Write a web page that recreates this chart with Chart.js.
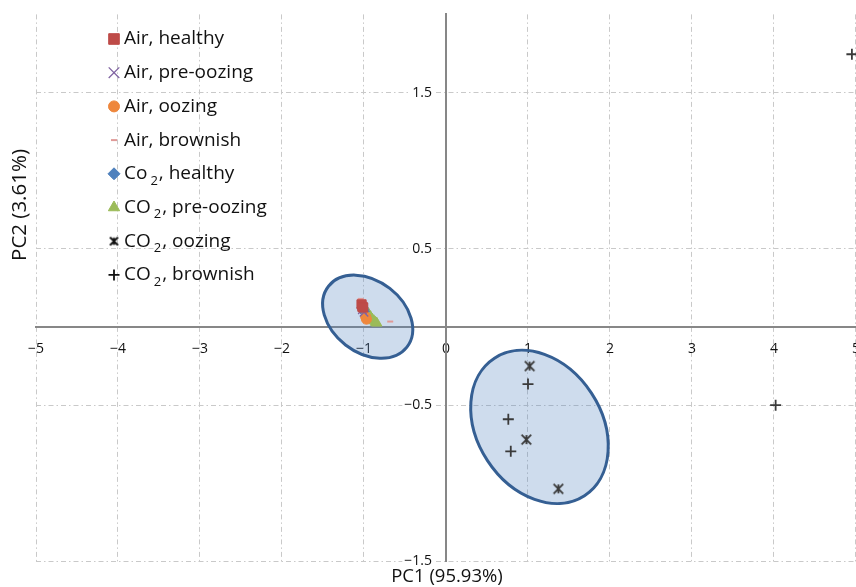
<!DOCTYPE html>
<html>
<head>
<meta charset="utf-8">
<script src="https://cdn.jsdelivr.net/npm/chart.js@4/dist/chart.umd.min.js"></script>
<style>
  html, body { margin: 0; padding: 0; background: #fff; overflow: hidden; }
  /* canvas a bit larger than the window: Chart.js reserves room for edge tick labels,
     the reference plot runs right up to the right border */
  #wrap { position: absolute; left: 0; top: -8px; width: 874px; height: 595px; }
</style>
</head>
<body>
<div id="wrap"><canvas id="pca"></canvas></div>
<script>
/* ===============================
   DATA (PC1, PC2 scores)
=============================== */
const seriesLabels = [
  'Air, healthy', 'Air, pre-oozing', 'Air, oozing', 'Air, brownish',
  'Co₂, healthy', 'CO₂, pre-oozing', 'CO₂, oozing', 'CO₂, brownish'
];

const airHealthy   = [[-1.03, 0.145], [-1.02, 0.13], [-1.01, 0.125]];
const airPreOozing = [[-1.02, 0.11], [-1.0, 0.095]];
const airOozing    = [[-0.98, 0.065], [-0.97, 0.05]];
const airBrownish  = [[-1.04, 0.18], [-0.68, 0.035]];
const co2Healthy   = [[-1.02, 0.125], [-1.01, 0.11], [-1.0, 0.1]];
const co2PreOozing = [[-0.99, 0.115], [-0.96, 0.095], [-0.94, 0.08], [-0.92, 0.065],
                      [-0.90, 0.05], [-0.88, 0.04], [-0.86, 0.03], [-0.845, 0.025]];
const co2Oozing    = [[1.02, -0.25], [0.98, -0.72], [1.37, -1.035]];
const co2Brownish  = [[1.0, -0.365], [0.76, -0.59], [0.79, -0.795], [4.02, -0.5], [4.95, 1.745]];

// confidence ellipses: centre and two conjugate semi-axes, in PC units
const ellipseCenters = [[-0.955, 0.066], [1.14, -0.639]];
const ellipseAxisA   = [[0.478, -0.195], [0.549, -0.44]];
const ellipseAxisB   = [[-0.27, -0.181], [-0.634, -0.216]];

const xTitle = 'PC1 (95.93%)';
const yTitle = 'PC2 (3.61%)';
const yTickValues = [-1.5, -0.5, 0.5, 1.5];

/* ===============================
   STYLES
=============================== */
const FONT = '"Open Sans", "Noto Sans", sans-serif';
const OFF_Y = 8; // canvas is shifted up by this much (see #wrap)

function makeAsterisk(size, color) {
  const c = document.createElement('canvas');
  c.width = c.height = size;
  const g = c.getContext('2d');
  const m = size / 2, r = size / 2 - 1.5;
  g.strokeStyle = color;
  g.lineWidth = 1.8;
  g.beginPath();
  g.moveTo(m - r * 0.8, m - r * 0.8); g.lineTo(m + r * 0.8, m + r * 0.8);
  g.moveTo(m + r * 0.8, m - r * 0.8); g.lineTo(m - r * 0.8, m + r * 0.8);
  g.moveTo(m, m - r * 0.75); g.lineTo(m, m + r * 0.75);
  g.stroke();
  return c;
}

const styles = [
  { pointStyle: 'rect',     color: '#be4b48', radius: 6.5, width: 1,   legendRadius: 7.5 },
  { pointStyle: 'crossRot', color: '#8064a2', radius: 6,   width: 1.3, legendRadius: 7.5 },
  { pointStyle: 'circle',   color: '#ee873d', radius: 5,   width: 1,   legendRadius: 5.5 },
  { pointStyle: 'line',     color: '#e09a98', radius: 3,   width: 2,   legendRadius: 3 },
  { pointStyle: 'rectRot',  color: '#4f81bd', radius: 5.5, width: 1,   legendRadius: 6 },
  { pointStyle: 'triangle', color: '#9bbb59', radius: 6,   width: 1,   legendRadius: 6.5 },
  { pointStyle: makeAsterisk(15, '#3a3a3a'), color: '#3a3a3a', radius: 7, width: 1, legendStyle: makeAsterisk(13, '#111'), legendRadius: 6 },
  { pointStyle: 'cross',    color: '#3a3a3a', radius: 5.5, width: 1.8, legendColor: '#111', legendRadius: 5.5 }
];

const seriesData = [airHealthy, airPreOozing, airOozing, airBrownish,
                    co2Healthy, co2PreOozing, co2Oozing, co2Brownish];

const fmt = v => (v < 0 ? '\u2212' + Math.abs(v) : String(v));

/* ===============================
   OVERLAY: ellipses, y labels, legend, titles
=============================== */
const overlayPlugin = {
  id: 'overlay',
  beforeDatasetsDraw(chart) {
    const { ctx, scales: { x, y } } = chart;
    ellipseCenters.forEach((c, i) => {
      const px = x.getPixelForValue(c[0]);
      const py = y.getPixelForValue(c[1]);
      const a = ellipseAxisA[i], b = ellipseAxisB[i];
      const ux = x.getPixelForValue(c[0] + a[0]) - px;
      const uy = y.getPixelForValue(c[1] + a[1]) - py;
      const vx = x.getPixelForValue(c[0] + b[0]) - px;
      const vy = y.getPixelForValue(c[1] + b[1]) - py;
      ctx.save();
      ctx.beginPath();
      ctx.save();
      ctx.transform(ux, uy, vx, vy, px, py);
      ctx.arc(0, 0, 1, 0, Math.PI * 2);
      ctx.restore();
      ctx.fillStyle = 'rgba(79,129,189,0.28)';
      ctx.fill();
      ctx.lineWidth = 3;
      ctx.strokeStyle = '#355f93';
      ctx.stroke();
      ctx.restore();
    });
  },
  afterDraw(chart) {
    const { ctx, scales: { x, y } } = chart;
    ctx.save();

    // y tick labels, left of the centred axis (Chart.js ignores padding there)
    ctx.font = '14px ' + FONT;
    ctx.textAlign = 'right';
    ctx.textBaseline = 'middle';
    const lxr = x.getPixelForValue(0) - 14;
    yTickValues.forEach(v => {
      const t = fmt(v);
      const py = y.getPixelForValue(v);
      const w = ctx.measureText(t).width;
      ctx.fillStyle = '#fff';
      ctx.fillRect(lxr - w - 2, py - 8, w + 4, 16);
      ctx.fillStyle = '#111';
      ctx.fillText(t, lxr, py);
    });

    ctx.translate(0, OFF_Y);
    // legend
    const lx = 114, ly0 = 39, step = 33.7;
    seriesLabels.forEach((label, i) => {
      const st = styles[i];
      const cy = ly0 + i * step;
      const col = st.legendColor || st.color;
      ctx.fillStyle = col;
      ctx.strokeStyle = col;
      ctx.lineWidth = st.width;
      Chart.helpers.drawPoint(ctx, {
        pointStyle: st.legendStyle || st.pointStyle,
        radius: st.legendRadius, borderWidth: st.width, rotation: 0
      }, lx, cy);

      ctx.fillStyle = '#111';
      ctx.textBaseline = 'middle';
      ctx.textAlign = 'left';
      ctx.font = '19px ' + FONT;
      const parts = label.split('₂');
      let tx = 124;
      ctx.fillText(parts[0], tx, cy);
      if (parts.length > 1) {
        tx += ctx.measureText(parts[0]).width + 3;
        ctx.font = '13px ' + FONT;
        ctx.fillText('2', tx, cy + 7);
        tx += ctx.measureText('2').width + 1;
        ctx.font = '19px ' + FONT;
        ctx.fillText(parts[1], tx, cy);
      }
    });
    // axis titles
    ctx.fillStyle = '#111';
    ctx.textAlign = 'center';
    ctx.textBaseline = 'middle';
    ctx.font = '18.5px ' + FONT;
    ctx.fillText(xTitle, 447, 577);
    ctx.font = '20.5px ' + FONT;
    ctx.translate(20, 205);
    ctx.rotate(-Math.PI / 2);
    ctx.fillText(yTitle, 0, 0);
    ctx.restore();
  }
};

/* ===============================
   CHART
=============================== */
const gridOpts = { color: '#c9c9c9', lineWidth: 1, drawTicks: false };
const borderOpts = { color: '#878787', width: 2, dash: [5, 3, 1.5, 3] };

new Chart(document.getElementById('pca'), {
  type: 'scatter',
  data: {
    datasets: seriesData.map((pts, i) => ({
      label: seriesLabels[i],
      data: pts.map(p => ({ x: p[0], y: p[1] })),
      pointStyle: styles[i].pointStyle,
      pointRadius: styles[i].radius,
      pointHoverRadius: styles[i].radius,
      backgroundColor: styles[i].color,
      borderColor: styles[i].color,
      borderWidth: styles[i].width,
      clip: false
    }))
  },
  options: {
    responsive: true,
    maintainAspectRatio: false,
    animation: false,
    layout: { padding: { left: 36, right: 0, top: 4, bottom: 25.5 } },
    plugins: { legend: { display: false }, tooltip: { enabled: false } },
    scales: {
      x: {
        type: 'linear',
        position: { y: 0 },
        min: -5, max: 5,
        grid: gridOpts,
        border: borderOpts,
        ticks: {
          stepSize: 1, autoSkip: false, maxRotation: 0,
          padding: 14, color: '#111',
          font: { family: FONT, size: 14 },
          callback: v => fmt(v)
        }
      },
      y: {
        type: 'linear',
        position: { x: 0 },
        min: -1.5, max: 2.0,
        grid: gridOpts,
        border: borderOpts,
        afterBuildTicks: s => { s.ticks = yTickValues.map(v => ({ value: v })); },
        ticks: {
          // labels are drawn by the overlay plugin; kept here for layout only
          autoSkip: false, padding: 14, color: 'rgba(0,0,0,0)',
          font: { family: FONT, size: 14 },
          callback: v => fmt(v)
        }
      }
    }
  },
  plugins: [overlayPlugin]
});
</script>
</body>
</html>
